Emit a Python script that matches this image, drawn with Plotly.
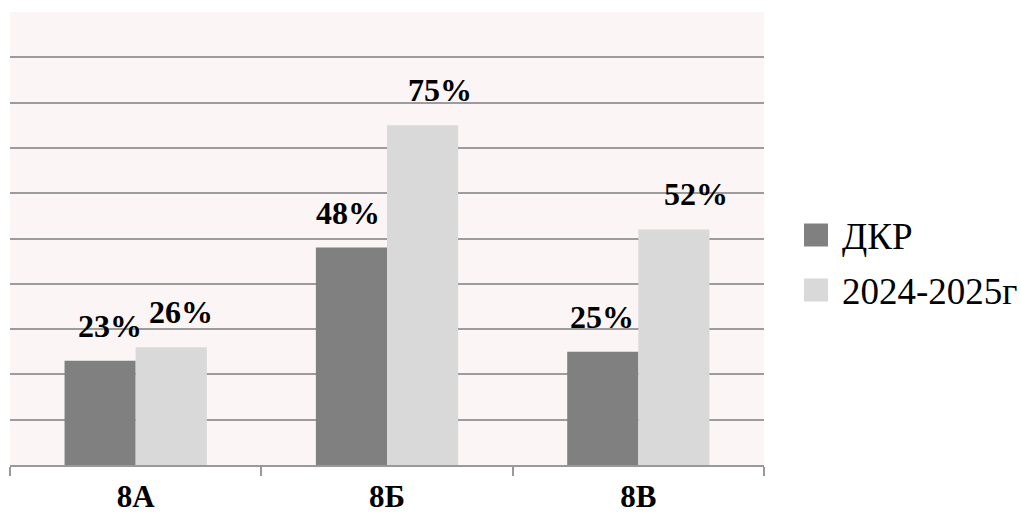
import plotly.graph_objects as go

# Class results, percent
classes = ["8А", "8Б", "8В"]
dkr = [23, 48, 25]
year_2024_2025 = [26, 75, 52]
series_names = ["ДКР", "2024-2025г"]

# Label placement (pixels) relative to each bar top / bar centre
dkr_label_dx = [10, -3, -1]
year_label_dx = [10, 17, 22]
label_dy = 35

serif = "Liberation Serif, Times New Roman, serif"
colors = ["#808080", "#D9D9D9"]

W, H = 1021, 515
M = dict(l=10, r=257, t=12, b=50)
plot_w = W - M["l"] - M["r"]
plot_h = H - M["t"] - M["b"]


def px_to_paper(px, py):
    return (px - M["l"]) / plot_w, (H - M["b"] - py) / plot_h


fig = go.Figure()
for name, vals, col in zip(series_names, [dkr, year_2024_2025], colors):
    fig.add_trace(go.Bar(x=classes, y=vals, name=name, marker_color=col,
                         marker_line_width=0, showlegend=False))

bar_half = 0.1415  # half the width of one bar, in category units
for i, (a, b) in enumerate(zip(dkr, year_2024_2025)):
    fig.add_annotation(x=i - bar_half, y=a, text=f"<b>{a}%</b>", showarrow=False,
                       xshift=dkr_label_dx[i], yshift=label_dy, yanchor="middle",
                       font=dict(family=serif, size=32, color="black"))
    fig.add_annotation(x=i + bar_half, y=b, text=f"<b>{b}%</b>", showarrow=False,
                       xshift=year_label_dx[i], yshift=label_dy, yanchor="middle",
                       font=dict(family=serif, size=32, color="black"))

# Legend: large square swatches with serif captions
for k, (name, col) in enumerate(zip(series_names, colors)):
    cy = 235 + 55 * k
    x0, y0 = px_to_paper(804, cy + 11.5)
    x1, y1 = px_to_paper(828, cy - 11.5)
    fig.add_shape(type="rect", xref="paper", yref="paper", x0=x0, y0=y0, x1=x1, y1=y1,
                  fillcolor=col, line_width=0)
    tx, ty = px_to_paper(840, cy + 1)
    fig.add_annotation(xref="paper", yref="paper", x=tx, y=ty, text=name, showarrow=False,
                       xanchor="left", yanchor="middle",
                       font=dict(family=serif, size=37, color="black"))

fig.update_layout(
    width=W, height=H,
    margin=M,
    paper_bgcolor="white",
    plot_bgcolor="#FBF5F5",
    barmode="group",
    bargap=0.434,
    bargroupgap=0,
    showlegend=False,
    xaxis=dict(type="category", showgrid=False, showline=True, linecolor="#999999",
               linewidth=1.5, ticks="outside", tickson="boundaries", ticklen=9,
               tickcolor="#999999", tickwidth=1.5, automargin=False,
               tickfont=dict(family=serif, size=31, color="black"),
               ticklabelstandoff=3),
    yaxis=dict(range=[0, 100], dtick=10, showticklabels=False, showgrid=True,
               gridcolor="#9C9C9C", gridwidth=1.5, zeroline=False, showline=False,
               automargin=False),
)
fig.update_xaxes(ticktext=[f"<b>{c}</b>" for c in classes], tickvals=classes)

fig.write_html("out.html")
